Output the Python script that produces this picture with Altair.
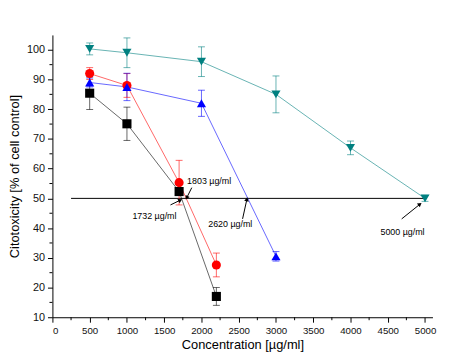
import altair as alt
import pandas as pd

series = ["Ethanol (in vitro)", "Ethanol (in vivo)", "Water (in vitro)", "Water (in vivo)"]
colors = ["#000000", "#ff0000", "#0000ff", "#008080"]
shapes = ["square", "circle", "triangle-up", "triangle-down"]

eth_vitro_conc = [500, 1000, 1700, 2200]
eth_vitro_val = [85.4, 75.1, 52.3, 17.0]
eth_vitro_err = [5.5, 5.6, 1.0, 3.0]

eth_vivo_conc = [500, 1000, 1700, 2200]
eth_vivo_val = [92.0, 88.0, 55.3, 27.6]
eth_vivo_err = [2.0, 4.0, 7.5, 4.0]

wat_vitro_conc = [500, 1000, 2000, 3000]
wat_vitro_val = [89.0, 87.5, 82.0, 30.5]
wat_vitro_err = [1.5, 4.6, 4.4, 1.6]

wat_vivo_conc = [500, 1000, 2000, 3000, 4000, 5000]
wat_vivo_val = [100.3, 99.0, 96.0, 85.0, 67.0, 50.0]
wat_vivo_err = [2.0, 5.0, 5.0, 6.2, 2.3, 1.0]

ref_level = [50]
ref_from = [250]
ref_to = [5000]

ann_label = ["1803 µg/ml", "1732 µg/ml", "2620 µg/ml", "5000 µg/ml"]
ann_text_x = [2103, 1369, 2387, 4698]
ann_text_y = [55.9, 44.0, 41.2, 38.6]
ann_x0 = [1870, 1584, 2552, 4687]
ann_y0 = [53.6, 47.8, 43.1, 43.1]
ann_x1 = [1806, 1708, 2608, 4925]
ann_y1 = [50.4, 49.3, 49.5, 47.9]
ann_angle = [207, 62, 12, 52]

x_major = [0, 500, 1000, 1500, 2000, 2500, 3000, 3500, 4000, 4500, 5000]
x_minor = [250, 750, 1250, 1750, 2250, 2750, 3250, 3750, 4250, 4750]
y_major = [10, 20, 30, 40, 50, 60, 70, 80, 90, 100]
y_minor = [15, 25, 35, 45, 55, 65, 75, 85, 95]

rows = []
for name, cs, vs, es in [
    (series[0], eth_vitro_conc, eth_vitro_val, eth_vitro_err),
    (series[1], eth_vivo_conc, eth_vivo_val, eth_vivo_err),
    (series[2], wat_vitro_conc, wat_vitro_val, wat_vitro_err),
    (series[3], wat_vivo_conc, wat_vivo_val, wat_vivo_err),
]:
    for c, v, e in zip(cs, vs, es):
        rows.append({"series": name, "conc": c, "val": v, "lo": v - e, "hi": v + e})
df = pd.DataFrame(rows)

ann = pd.DataFrame({"label": ann_label, "tx": ann_text_x, "ty": ann_text_y,
                    "x0": ann_x0, "y0": ann_y0, "x1": ann_x1, "y1": ann_y1, "angle": ann_angle})
ref = pd.DataFrame({"y": ref_level, "x": ref_from, "x2": ref_to})

W, H = 385, 286
xs = alt.Scale(domain=[0, 5100], nice=False, zero=False)
ys = alt.Scale(domain=[10, 105], nice=False, zero=False)
cscale = alt.Scale(domain=series, range=colors)
sscale = alt.Scale(domain=series, range=shapes)
xaxis = alt.Axis(values=x_major, title="Concentration [µg/ml]", grid=False, format="d",
                 labelOverlap=False, tickSize=5, labelPadding=3, titlePadding=4, labelFontSize=9.8)
yaxis = alt.Axis(values=y_major, title="Citotoxicity [% of cell control]", grid=False, format="d",
                 labelOverlap=False, tickSize=5, labelPadding=3, titlePadding=5, labelFontSize=11)


def X(f):
    return alt.X(f, scale=xs, axis=xaxis)


def Y(f):
    return alt.Y(f, scale=ys, axis=yaxis)


col = alt.Color("series:N", scale=cscale, legend=None)

leg = alt.Legend(
    title=None, orient="none", legendX=281, legendY=-21,
    symbolSize=64, symbolOffset=12, labelOffset=20, padding=7.6,
    strokeColor="#777", fillColor="white",
    labelFontSize=13, labelFont="Liberation Sans",
    rowPadding=1, labelColor="#000", symbolOpacity=1,
)

refline = alt.Chart(ref).mark_rule(color="#000", strokeWidth=1).encode(
    x=X("x:Q"), x2="x2:Q", y=Y("y:Q"))

base = alt.Chart(df)
lines = base.mark_line(strokeWidth=1, opacity=0.6).encode(
    x=X("conc:Q"), y=Y("val:Q"), color=col, detail="series:N")
err = base.mark_rule(strokeWidth=1, opacity=0.6).encode(
    x=X("conc:Q"), y=Y("lo:Q"), y2="hi:Q", color=col)
cap_lo = base.mark_tick(orient="horizontal", size=7, thickness=1, opacity=0.6).encode(
    x=X("conc:Q"), y=Y("lo:Q"), color=col)
cap_hi = base.mark_tick(orient="horizontal", size=7, thickness=1, opacity=0.6).encode(
    x=X("conc:Q"), y=Y("hi:Q"), color=col)
pts = base.mark_point(filled=True, size=85, opacity=1).encode(
    x=X("conc:Q"), y=Y("val:Q"),
    color=alt.Color("series:N", scale=cscale, legend=leg),
    shape=alt.Shape("series:N", scale=sscale, legend=leg))

arrows = alt.Chart(ann).mark_rule(color="#000", strokeWidth=1).encode(
    x=X("x0:Q"), y=Y("y0:Q"), x2="x1:Q", y2="y1:Q")
heads = alt.Chart(ann).mark_point(shape="triangle", filled=True, color="#000", size=22, opacity=1).encode(
    x=X("x1:Q"), y=Y("y1:Q"), angle=alt.Angle("angle:Q", scale=None))
texts = alt.Chart(ann).mark_text(font="Liberation Sans", fontSize=9, color="#000").encode(
    x=X("tx:Q"), y=Y("ty:Q"), text="label:N")

xminor = alt.Chart(pd.DataFrame({"v": x_minor})).mark_rule(color="#000").encode(
    x=X("v:Q"), y=alt.value(H), y2=alt.value(H + 3))
yminor = alt.Chart(pd.DataFrame({"v": y_minor})).mark_rule(color="#000").encode(
    y=Y("v:Q"), x=alt.value(0), x2=alt.value(-3))

chart = alt.layer(refline, lines, err, cap_lo, cap_hi, pts, arrows, heads, texts,
                  xminor, yminor).properties(
    width=W, height=H, autosize="none",
    padding={"left": 45, "top": 25, "right": 36, "bottom": 40},
).configure_view(stroke=None).configure_axis(
    labelFont="Liberation Sans", titleFont="Liberation Sans", titleFontSize=13,
    titleFontWeight="normal", labelColor="#111", titleColor="#000", domainColor="#000",
    tickColor="#000", domainWidth=1,
)

chart.save("out.html", embed_options={"renderer": "svg", "actions": False})
